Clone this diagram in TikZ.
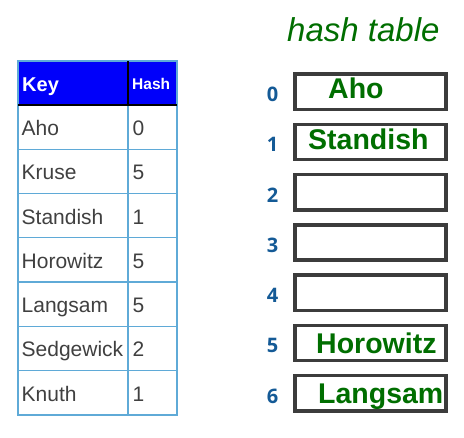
\documentclass[tikz,border=0pt]{standalone}
\usepackage{fontspec}
\setmainfont{Liberation Sans}
\newfontfamily\idxfont{Open Sans}
\definecolor{gridblue}{RGB}{95,170,215}
\definecolor{headblue}{RGB}{0,0,250}
\definecolor{celltext}{RGB}{64,64,64}
\definecolor{keygreen}{RGB}{0,110,0}
\definecolor{idxblue}{RGB}{20,90,150}
\definecolor{boxgray}{RGB}{60,60,60}
\tikzset{
  cell/.style={anchor=base west, inner sep=0pt, text=celltext, font=\fontsize{21}{25}\selectfont},
  headtxt/.style={anchor=base west, inner sep=0pt, text=white, font=\bfseries},
  slot/.style={draw=boxgray, line width=3.4pt},
  slotkey/.style={anchor=base west, inner sep=0pt, text=keygreen, font=\bfseries\fontsize{28.5}{33}\selectfont},
  idx/.style={anchor=base, inner sep=0pt, text=idxblue, font=\idxfont\bfseries\fontsize{20}{24}\selectfont},
  gridline/.style={draw=gridblue, line width=1.4pt},
}
\begin{document}
\begin{tikzpicture}[x=1pt,y=-1pt]
\useasboundingbox (0,0) rectangle (464,438);

% title
\node[anchor=base west, inner sep=0pt, text=keygreen, font=\itshape\fontsize{33}{38}\selectfont] (title) at (287,42) {hash table};

% key/hash table
\fill[headblue] (18,61) rectangle (177,105);
\foreach \i in {1,...,6} {
  \draw[gridline] (18,{105+44.25*\i}) -- (177,{105+44.25*\i});
}
\draw[gridline] (128,105) -- (128,415);
\draw[gridline] (18,61) rectangle (177,415);
\draw[black, line width=1.4pt] (18,105) -- (177,105);
\draw[black, line width=1.4pt] (128,61) -- (128,105);

\node[headtxt, font=\bfseries\fontsize{20}{24}\selectfont] (hkey) at (22,92) {Key};
\node[headtxt, font=\bfseries\fontsize{15.5}{18}\selectfont] (hhash) at (132,90) {Hash};

\foreach \k/\h [count=\r from 0] in {Aho/0,Kruse/5,Standish/1,Horowitz/5,Langsam/5,Sedgewick/2,Knuth/1} {
  \node[cell] (k\r) at (21.5,{105+44.25*\r+22.1+8.5}) {\k};
  \node[cell] (h\r) at (132.5,{105+44.25*\r+22.1+8.5}) {\h};
}

% hash table slots with their indices
\foreach \i in {0,...,6} {
  \draw[slot] (295,{74+50.3*\i}) rectangle (446,{109.3+50.3*\i});
  \node[idx] (i\i) at (272.5,{101.5+50.3*\i}) {\i};
}

% stored keys
\node[slotkey] (s0) at (328,99) {Aho};
\node[slotkey] (s1) at (308,150) {Standish};
\node[slotkey] (s5) at (316,354) {Horowitz};
\node[slotkey] (s6) at (318,404) {Langsam};
\end{tikzpicture}
\end{document}
